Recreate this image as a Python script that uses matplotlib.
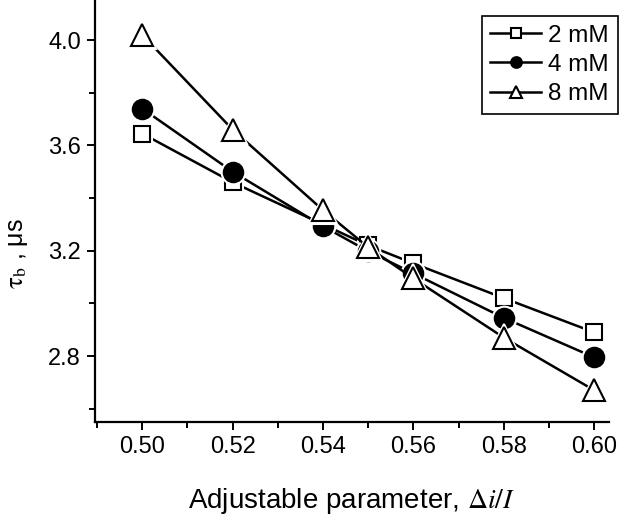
import matplotlib
matplotlib.use("Agg")
import matplotlib.pyplot as plt
from matplotlib.ticker import MultipleLocator, FormatStrFormatter

# values
x = [0.50, 0.52, 0.54, 0.55, 0.56, 0.58, 0.60]
tau_2mM = [3.645, 3.46, 3.30, 3.22, 3.152, 3.02, 2.89]
tau_4mM = [3.74, 3.50, 3.293, 3.198, 3.114, 2.945, 2.795]
tau_8mM = [4.02, 3.66, 3.354, 3.213, 3.095, 2.87, 2.67]
labels = ['2 mM', '4 mM', '8 mM']

plt.rcParams['font.family'] = ['Liberation Sans', 'DejaVu Sans']
plt.rcParams['mathtext.fontset'] = 'stix'

fig = plt.figure(figsize=(6.4, 5.2), dpi=100)
ax = fig.add_axes([0.148, 0.188, 0.804, 0.812])

series = [
    (tau_2mM, 's', 12, 'white'),
    (tau_4mM, 'o', 14, 'black'),
    (tau_8mM, '^', 16.5, 'white'),
]
for (y, m, ms, fc), lab in zip(series, labels):
    # line first, then a white halo so the line stops short of the symbol
    ax.plot(x, y, '-', color='black', lw=1.8)
    ax.plot(x, y, m, ls='none', ms=ms + 3, mfc='white', mec='white', mew=1.5)
    ax.plot(x, y, m, ls='none', ms=ms, mfc=fc, mec='black', mew=1.5)
    # legend handle
    ax.plot([], [], '-' + m, color='black', lw=1.8, ms=ms, mfc=fc, mew=1.5, label=lab)

ax.set_xlim(0.4895, 0.6033)
ax.set_ylim(2.549, 4.152)
ax.xaxis.set_major_locator(MultipleLocator(0.02))
ax.xaxis.set_minor_locator(MultipleLocator(0.01))
ax.yaxis.set_major_locator(MultipleLocator(0.4))
ax.yaxis.set_minor_locator(MultipleLocator(0.2))
ax.xaxis.set_major_formatter(FormatStrFormatter('%.2f'))
ax.yaxis.set_major_formatter(FormatStrFormatter('%.1f'))

for s in ['top', 'right']:
    ax.spines[s].set_visible(False)
for s in ['left', 'bottom']:
    ax.spines[s].set_linewidth(1.6)

ax.tick_params(which='major', direction='out', length=6, width=1.4, labelsize=17, pad=4)
ax.tick_params(which='minor', direction='out', length=4, width=1.4)

ax.set_xlabel('Adjustable parameter, $\\mathit{\\Delta i/I}$', fontsize=20, labelpad=20)
ax.set_ylabel('$\\mathrm{\\tau}_\\mathrm{b}$ , μs', fontsize=18)
ax.yaxis.set_label_coords(-0.125, 0.40)

leg = ax.legend(loc='upper right', bbox_to_anchor=(1.016, 0.962), fontsize=17.5, markerscale=0.55,
                handlelength=2.1, handletextpad=0.3, labelspacing=0.3, borderpad=0.35,
                borderaxespad=0.0, fancybox=False, framealpha=1, edgecolor='black')
leg.get_frame().set_linewidth(1.2)

fig.savefig('out.png', dpi=100)
